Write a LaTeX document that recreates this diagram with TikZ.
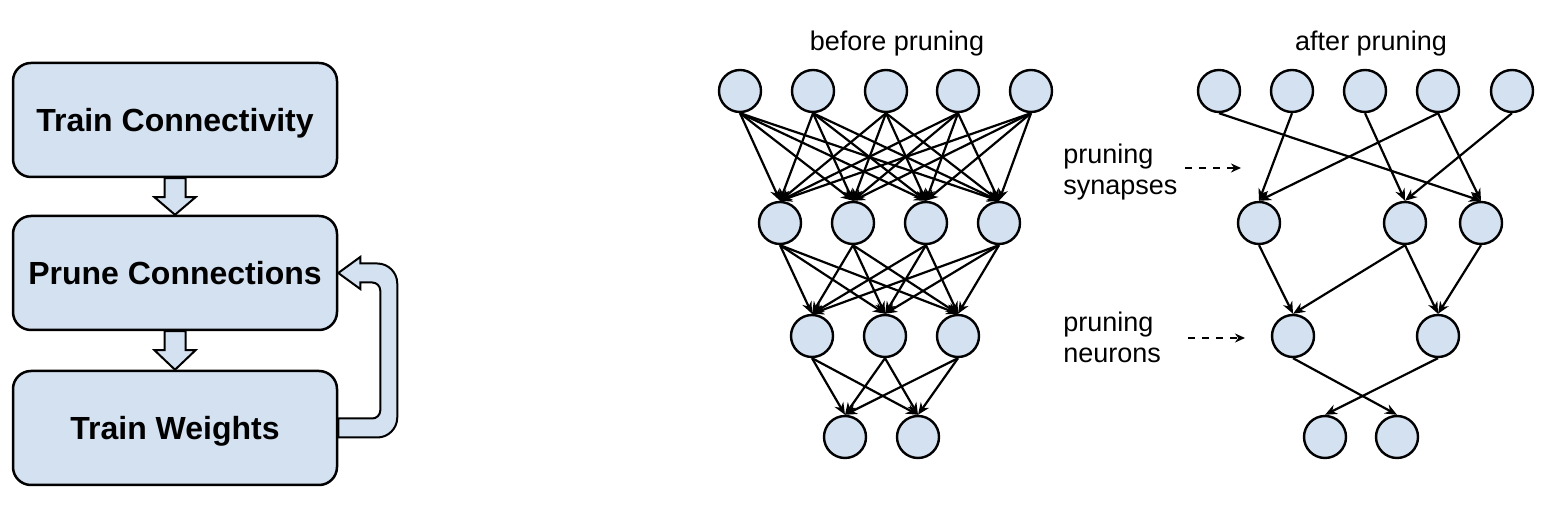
\documentclass[tikz,border=0pt]{standalone}
\usepackage{fontspec}
\setmainfont{Liberation Sans}
\usetikzlibrary{arrows.meta,calc}
\definecolor{cellblue}{RGB}{212,225,241}
\tikzset{
	stepbox/.style={draw=black,line width=1.25pt,fill=cellblue,rounded corners=9pt,minimum width=162pt,minimum height=57pt,inner sep=0pt,text depth=0pt,font=\fontsize{16}{19}\selectfont\bfseries},
	blockarrow/.style={draw=black,line width=1pt,fill=cellblue,line join=miter},
	neuron/.style={circle,draw=black,line width=1.2pt,fill=cellblue,minimum size=21pt,inner sep=0pt},
	synapse/.style={line width=1.1pt,-{Stealth[length=6pt,width=5pt]}},
	hint/.style={line width=1pt,dash pattern=on 3.5pt off 3.5pt,-{Stealth[length=5pt,width=4.5pt]}},
	caption/.style={inner sep=0pt,font=\fontsize{13.5}{15.5}\selectfont}
}
\begin{document}
\begin{tikzpicture}[line join=round,x=0.5pt,y=-0.5pt]
		\useasboundingbox (0,0) rectangle (1556,506);
		% training loop
		\node[stepbox] (tc) at (175,120) {Train Connectivity};
		\node[stepbox] (pc) at (175,273) {Prune Connections};
		\node[stepbox] (tw) at (175,428) {Train Weights};
		\draw[blockarrow] ($(tc.south)+(-10.5,0)$) -- ++(0,19) -- ++(-10,0) -- (pc.north) -- ($(tc.south)+(20.5,19)$) -- ++(-10,0) -- ($(tc.south)+(10.5,0)$) -- cycle;
		\draw[blockarrow] ($(pc.south)+(-10.5,0)$) -- ++(0,19) -- ++(-10,0) -- (tw.north) -- ($(pc.south)+(20.5,19)$) -- ++(-10,0) -- ($(pc.south)+(10.5,0)$) -- cycle;
		\draw[blockarrow] ($(tw.east)+(0,-9.5)$) [rounded corners=4pt] -- ($(tw.east)+(42,-9.5)$) -- ($(pc.east)+(42,9.5)$) [sharp corners] -- ($(pc.east)+(22,9.5)$) -- ($(pc.east)+(22,16)$) -- (pc.east) -- ($(pc.east)+(22,-16)$) -- ($(pc.east)+(22,-9.5)$) [rounded corners=10pt] -- ($(pc.east)+(59,-9.5)$) -- ($(tw.east)+(59,9.5)$) [sharp corners] -- ($(tw.east)+(0,9.5)$) -- cycle;
		% before pruning
		\node[caption] (before) at (897,44) {before pruning};
		\foreach \x [count=\i] in {740,813,886,958,1031}
			\node[neuron] (b1-\i) at (\x,91) {};
		\foreach \x [count=\i] in {780,853,926,999}
			\node[neuron] (b2-\i) at (\x,223) {};
		\foreach \x [count=\i] in {812,885,958}
			\node[neuron] (b3-\i) at (\x,336) {};
		\foreach \x [count=\i] in {845,918}
			\node[neuron] (b4-\i) at (\x,437) {};
		\foreach \i in {1,...,5}
			\foreach \j in {1,...,4}
				\draw[synapse] (b1-\i.south) -- (b2-\j.north);
		\foreach \i in {1,...,4}
			\foreach \j in {1,...,3}
				\draw[synapse] (b2-\i.south) -- (b3-\j.north);
		\foreach \i in {1,...,3}
			\foreach \j in {1,2}
				\draw[synapse] (b3-\i.south) -- (b4-\j.north);
		% labels in between
		\node[caption,anchor=west,align=left] (synlbl) at (1063,172) {pruning\\synapses};
		\node[caption,anchor=west,align=left] (neulbl) at (1063,337) {pruning\\neurons};
		\coordinate (syn-from) at (1185,168);
		\coordinate (syn-to) at (1241,168);
		\coordinate (neu-from) at (1188,338);
		\coordinate (neu-to) at (1245,338);
		\draw[hint] (syn-from) -- (syn-to);
		\draw[hint] (neu-from) -- (neu-to);
		% after pruning
		\node[caption] (after) at (1371,44) {after pruning};
		\foreach \x [count=\i] in {1219,1292,1365,1438,1512}
			\node[neuron] (a1-\i) at (\x,91) {};
		\foreach \x [count=\i] in {1259,1405,1481}
			\node[neuron] (a2-\i) at (\x,223) {};
		\foreach \x [count=\i] in {1293,1438}
			\node[neuron] (a3-\i) at (\x,336) {};
		\foreach \x [count=\i] in {1325,1397}
			\node[neuron] (a4-\i) at (\x,437) {};
		\draw[synapse] (a1-1.south) -- (a2-3.north);
		\draw[synapse] (a1-2.south) -- (a2-1.north);
		\draw[synapse] (a1-3.south) -- (a2-2.north);
		\draw[synapse] (a1-4.south) -- (a2-1.north);
		\draw[synapse] (a1-4.south) -- (a2-3.north);
		\draw[synapse] (a1-5.south) -- (a2-2.north);
		\draw[synapse] (a2-1.south) -- (a3-1.north);
		\draw[synapse] (a2-2.south) -- (a3-1.north);
		\draw[synapse] (a2-2.south) -- (a3-2.north);
		\draw[synapse] (a2-3.south) -- (a3-2.north);
		\draw[synapse] (a3-1.south) -- (a4-2.north);
		\draw[synapse] (a3-2.south) -- (a4-1.north);
	\end{tikzpicture}
\end{document}
